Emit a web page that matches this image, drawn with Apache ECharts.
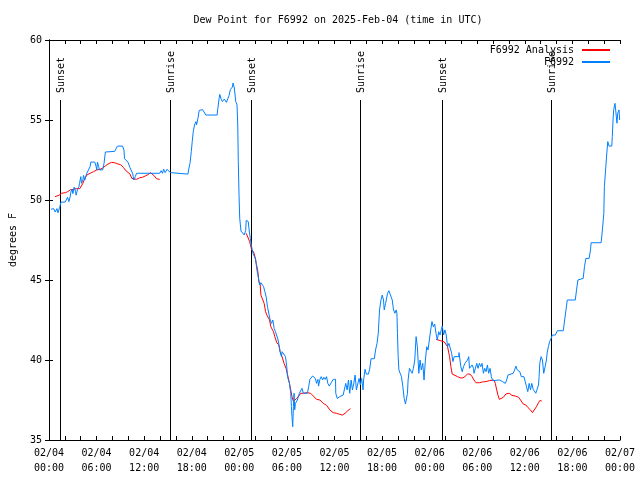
<!DOCTYPE html>
<html>
<head>
<meta charset="utf-8">
<script src="https://cdn.jsdelivr.net/npm/echarts@6/dist/echarts.min.js"></script>
<style>html,body{margin:0;padding:0;background:#fff;}#chart{width:640px;height:480px;}</style>
</head>
<body>
<div id="chart"></div>
<script>
// hours since 2025-02-04 00:00 UTC
const obsHours = [0.25,0.59,0.79,1.00,1.13,1.34,1.51,2.04,2.17,2.35,2.51,2.67,2.76,2.92,3.01,3.17,3.35,3.42,3.60,3.76,3.85,3.93,4.01,4.10,4.27,4.35,4.52,4.60,4.77,5.02,5.18,5.27,5.77,5.93,6.02,6.11,6.27,6.36,6.77,6.94,7.11,7.19,8.28,8.44,8.62,9.28,9.45,9.53,9.78,9.95,10.12,10.20,10.45,10.54,10.62,10.70,10.88,11.04,13.96,14.14,14.30,14.46,14.64,14.89,15.14,15.30,15.55,17.52,17.60,17.78,17.94,18.06,18.19,18.35,18.53,18.60,18.78,18.94,19.36,19.78,21.20,21.29,21.45,21.54,21.70,21.86,22.11,22.37,22.62,22.70,22.87,23.12,23.21,23.37,23.55,23.71,23.80,23.87,23.96,24.05,24.21,24.46,24.62,24.80,24.87,25.13,25.21,25.38,25.55,25.72,25.97,26.05,26.22,26.38,26.56,26.72,26.88,27.06,27.22,27.38,27.56,27.73,27.89,28.06,28.22,28.39,28.56,28.73,28.89,29.06,29.14,29.31,29.39,29.57,29.82,29.98,30.07,30.23,30.32,30.48,30.57,30.64,30.73,30.82,30.90,30.98,31.07,31.23,31.32,31.57,31.74,31.90,32.08,32.58,32.74,32.90,33.08,33.24,33.41,33.58,33.74,33.91,33.99,34.16,34.33,34.50,34.66,34.83,35.00,35.16,35.34,35.59,35.84,36.13,36.16,36.34,36.67,37.09,37.34,37.42,37.59,37.76,37.92,38.10,38.26,38.42,38.60,38.76,39.01,39.10,39.26,39.42,39.60,39.67,39.85,40.01,40.27,40.43,40.61,41.02,41.18,41.36,41.52,41.68,41.86,42.02,42.18,42.27,42.44,42.53,42.69,42.86,43.11,43.28,43.44,43.62,43.78,43.87,43.94,44.03,44.12,44.28,44.44,44.62,44.78,44.95,45.12,45.20,45.28,45.45,45.62,45.79,45.95,46.12,46.29,46.45,46.63,46.79,46.95,47.13,47.29,47.46,47.63,47.79,47.96,48.13,48.29,48.46,48.63,48.80,48.96,49.14,49.30,49.46,49.59,49.76,49.92,50.09,50.26,50.43,50.59,50.77,50.93,51.09,51.68,51.70,51.85,51.93,52.10,52.27,52.44,52.60,52.77,52.93,53.02,53.18,53.35,53.52,53.59,53.77,53.94,54.10,54.27,54.44,54.60,54.78,54.94,55.11,55.28,55.44,55.61,55.78,55.94,56.79,57.20,57.37,57.54,57.71,57.87,58.54,58.71,58.87,59.04,59.21,59.37,59.55,59.71,59.88,60.05,60.21,60.37,60.55,60.71,60.88,61.05,61.21,61.38,61.55,61.72,61.80,61.88,62.05,62.22,62.38,62.56,62.72,62.81,62.97,63.13,63.31,63.47,63.85,64.10,64.85,65.02,65.19,65.35,66.36,66.52,66.69,66.86,67.36,67.52,67.70,68.11,68.28,68.36,69.62,69.78,69.96,70.03,70.21,70.37,70.46,70.62,70.96,71.03,71.12,71.21,71.37,71.54,71.62,71.71,71.87,71.96];
const obsValues = [49.42,49.46,49.25,49.46,49.2,49.54,49.87,49.87,50.0,50.17,49.9,50.2,50.5,50.67,50.4,50.8,50.54,50.3,50.67,50.8,51.04,51.25,51.46,51.04,51.25,51.54,51.25,51.42,51.67,51.67,52.08,52.37,52.37,52.12,51.88,52.37,52.08,51.88,51.88,52.29,53.0,53.04,53.04,53.19,53.37,53.37,53.12,52.58,52.58,52.37,52.37,52.04,52.04,51.67,51.46,51.25,51.46,51.67,51.67,51.83,51.67,51.92,51.71,51.92,51.92,51.71,51.62,51.62,51.88,52.29,53.02,53.65,54.27,54.69,54.9,54.69,55.1,55.6,55.65,55.31,55.31,55.73,56.35,56.6,56.31,56.15,56.31,56.1,56.1,56.52,56.9,57.06,57.31,57.0,56.15,55.94,54.69,52.4,50.3,48.85,48.06,48.02,47.81,48.1,48.73,48.65,48.23,47.6,47.08,46.67,46.67,46.3,45.62,45.2,44.69,44.83,44.83,44.58,44.27,43.96,43.29,43.29,42.5,42.29,42.5,41.98,41.77,41.67,41.25,41.25,40.52,40.21,40.52,40.42,40.21,39.58,38.96,38.96,38.54,37.92,37.08,36.46,35.83,37.08,37.92,36.88,37.29,37.29,37.5,37.92,37.92,38.23,37.92,37.92,38.33,38.79,38.79,39.0,39.12,38.85,38.54,38.79,38.37,38.79,38.96,38.75,38.92,38.79,38.96,38.54,38.37,38.58,38.79,38.79,37.92,37.6,37.71,37.81,37.92,38.54,38.13,38.75,37.92,38.75,38.13,38.5,39.06,38.13,38.13,38.85,38.44,38.85,38.13,38.75,39.42,39.12,39.12,39.42,40.08,40.08,40.63,41.04,41.67,43.13,43.75,44.06,43.75,43.13,43.54,43.75,44.17,44.33,44.29,43.75,43.13,42.92,43.13,42.92,41.67,40.21,39.38,39.17,38.96,38.33,37.6,37.25,37.25,37.92,38.75,39.48,39.58,39.17,39.48,40.0,41.46,40.83,39.17,40.0,39.38,39.79,38.75,40.0,40.83,40.63,41.25,41.88,42.4,42.08,42.25,41.67,41.25,41.77,41.56,41.88,42.13,41.56,41.88,41.56,40.83,41.04,41.15,40.42,39.9,40.21,40.21,40.46,40.42,39.58,39.27,39.58,39.79,39.69,40.0,40.21,39.48,39.38,39.69,39.48,39.17,39.27,39.79,39.48,39.79,39.58,39.79,39.17,39.48,39.27,39.69,39.17,39.48,38.96,38.71,38.75,38.65,38.71,38.54,38.75,39.06,39.17,39.38,39.62,39.38,39.48,39.27,38.96,38.85,38.96,38.65,38.33,38.02,38.54,38.13,38.54,38.17,38.13,37.92,38.17,38.44,38.96,39.79,40.21,40.0,39.17,39.58,40.0,40.42,40.83,41.15,41.35,41.56,41.56,41.83,41.83,42.5,43.13,43.75,43.75,44.38,45.0,45.1,45.1,45.83,46.35,46.35,46.88,47.33,47.33,48.13,49.17,50.83,52.08,53.13,53.65,53.37,53.37,53.96,55.0,55.67,56.04,55.2,54.8,55.42,55.63,55.0];

// analysis (null = gap)
const anaHours = [0.75,1.25,1.59,2.09,2.35,2.67,3.10,3.51,3.89,4.10,4.27,4.52,4.77,5.18,5.61,6.02,6.44,6.77,7.11,7.44,7.87,8.28,8.69,9.03,9.37,9.70,9.95,10.20,10.45,10.70,11.04,11.38,11.79,12.13,12.46,12.80,13.05,13.30,13.55,13.96,
  19.0,
  24.87,25.30,25.55,25.80,25.97,26.13,26.31,26.47,26.63,26.72,26.97,27.13,27.31,27.47,27.64,27.81,27.97,28.14,28.31,28.47,28.73,28.98,29.14,29.39,29.64,29.89,30.14,30.32,30.48,30.64,30.82,30.98,31.23,31.49,31.74,32.11,32.49,32.99,33.33,33.74,34.16,34.58,35.00,35.41,35.84,36.25,36.67,37.00,37.34,37.67,38.01,
  43.0,
  48.80,49.42,49.84,50.09,50.26,50.51,50.68,50.84,51.09,51.52,51.85,52.18,52.44,52.77,53.09,53.35,53.59,53.85,54.27,54.69,55.11,55.53,56.11,56.28,56.45,56.61,56.79,57.04,57.29,57.62,58.04,58.37,58.79,59.21,59.46,59.80,60.12,60.37,60.71,60.96,61.21,61.46,61.72,61.88,62.13];
const anaValues = [50.21,50.29,50.42,50.46,50.52,50.63,50.67,50.71,50.71,50.83,51.04,51.35,51.56,51.67,51.77,51.88,51.92,52.0,52.13,52.25,52.35,52.33,52.25,52.21,52.04,51.83,51.71,51.63,51.35,51.25,51.29,51.38,51.42,51.5,51.58,51.71,51.67,51.5,51.33,51.29,
  null,
  47.92,47.4,46.88,46.75,46.46,46.04,45.63,44.9,44.69,44.06,43.96,43.54,43.02,42.81,42.75,42.5,42.08,42.0,41.77,41.46,41.08,40.94,40.52,40.21,39.79,39.48,38.96,38.54,38.13,37.71,37.4,37.33,37.6,37.75,37.92,37.92,37.96,37.92,37.75,37.54,37.5,37.29,37.17,36.88,36.71,36.67,36.6,36.56,36.67,36.83,36.96,
  null,
  41.29,41.2,41.13,41.08,40.83,40.21,39.58,39.12,39.06,38.96,38.88,38.88,38.96,39.12,39.12,38.96,38.75,38.58,38.58,38.63,38.65,38.71,38.75,38.54,38.13,37.81,37.54,37.5,37.67,37.88,37.92,37.79,37.75,37.67,37.5,37.25,37.19,37.04,36.88,36.71,36.75,37.08,37.33,37.46,37.44];

const sunHours = [1.45, 15.28, 25.50, 39.18, 49.58, 63.27];
const sunLabels = ['Sunset','Sunrise','Sunset','Sunrise','Sunset','Sunrise'];
const sunLineTop = 56.25;

const xTickLabels = ['02/04\n00:00','02/04\n06:00','02/04\n12:00','02/04\n18:00','02/05\n00:00','02/05\n06:00','02/05\n12:00','02/05\n18:00','02/06\n00:00','02/06\n06:00','02/06\n12:00','02/06\n18:00','02/07\n00:00'];

const FONT = '"DejaVu Sans Mono", "Liberation Mono", monospace';
const chart = echarts.init(document.getElementById('chart'), null, {renderer: 'canvas'});

const obsData = obsHours.map((h, i) => [h, obsValues[i]]);
const anaData = anaHours.map((h, i) => [h, anaValues[i] === null ? '-' : anaValues[i]]);

const axisLineStyle = {show: true, lineStyle: {color: '#000', width: 1}};
function xAx(pos, labels) {
  return {
    type: 'value', position: pos, min: 0, max: 72, interval: 2,
    axisLine: axisLineStyle,
    axisTick: {show: true, inside: true, length: 4, lineStyle: {color: '#000'}},
    splitLine: {show: false},
    axisLabel: labels ? {
      show: true, color: '#000', fontFamily: FONT, fontSize: 10, lineHeight: 15, margin: 6,
      formatter: v => (Math.abs(v % 6) < 1e-6 ? xTickLabels[Math.round(v / 6)] : '')
    } : {show: false}
  };
}
function yAx(pos, labels) {
  return {
    type: 'value', position: pos, min: 35, max: 60, interval: 5,
    name: labels ? 'degrees F' : '', nameLocation: 'middle', nameGap: 31, nameRotate: 90,
    nameTextStyle: {color: '#000', fontFamily: FONT, fontSize: 10},
    axisLine: axisLineStyle,
    axisTick: {show: true, inside: true, length: 4, lineStyle: {color: '#000'}},
    splitLine: {show: false},
    axisLabel: labels ? {show: true, color: '#000', fontFamily: FONT, fontSize: 10, margin: 7} : {show: false}
  };
}

chart.setOption({
  animation: false,
  backgroundColor: '#fff',
  title: {
    text: 'Dew Point for F6992 on 2025-Feb-04 (time in UTC)',
    left: 333, top: 10, textAlign: 'center',
    textStyle: {color: '#000', fontFamily: FONT, fontSize: 10, fontWeight: 'normal'}
  },
  grid: {left: 46, right: 20, top: 40, bottom: 40},
  legend: {
    data: ['F6992 Analysis', 'F6992'],
    orient: 'vertical', right: 25, top: 39, align: 'right',
    itemWidth: 28, itemHeight: 2, itemGap: 0, icon: 'rect',
    textStyle: {color: '#000', fontFamily: FONT, fontSize: 10, lineHeight: 12, padding: [0, 3, 0, 0]}
  },
  xAxis: [xAx('bottom', true), xAx('top', false)],
  yAxis: [yAx('left', true), yAx('right', false)],
  series: [
    {
      name: 'Sun', type: 'custom', xAxisIndex: 0, yAxisIndex: 0, silent: true,
      data: sunHours.map(h => [h, 35]),
      encode: {x: 0, y: 1},
      renderItem: function (params, api) {
        const h = api.value(0);
        const p0 = api.coord([h, 35]);
        const p1 = api.coord([h, sunLineTop]);
        const x = Math.round(p0[0]) + 0.5;
        return {
          type: 'group',
          children: [
            {type: 'line', shape: {x1: x, y1: p0[1], x2: x, y2: p1[1]}, style: {stroke: '#000', lineWidth: 1}},
            {type: 'text', x: x + 1, y: p1[1] - 7, rotation: Math.PI / 2,
             style: {text: sunLabels[params.dataIndex], font: '10px ' + FONT, fill: '#000', align: 'left', verticalAlign: 'middle'}}
          ]
        };
      }
    },
    {
      name: 'F6992 Analysis', type: 'line', data: anaData, showSymbol: false, symbol: 'none',
      connectNulls: false, lineStyle: {color: '#ff0000', width: 1}, itemStyle: {color: '#ff0000'}, z: 3
    },
    {
      name: 'F6992', type: 'line', data: obsData, showSymbol: false, symbol: 'none',
      lineStyle: {color: '#0080ff', width: 1}, itemStyle: {color: '#0080ff'}, z: 4
    }
  ]
});
</script>
</body>
</html>
